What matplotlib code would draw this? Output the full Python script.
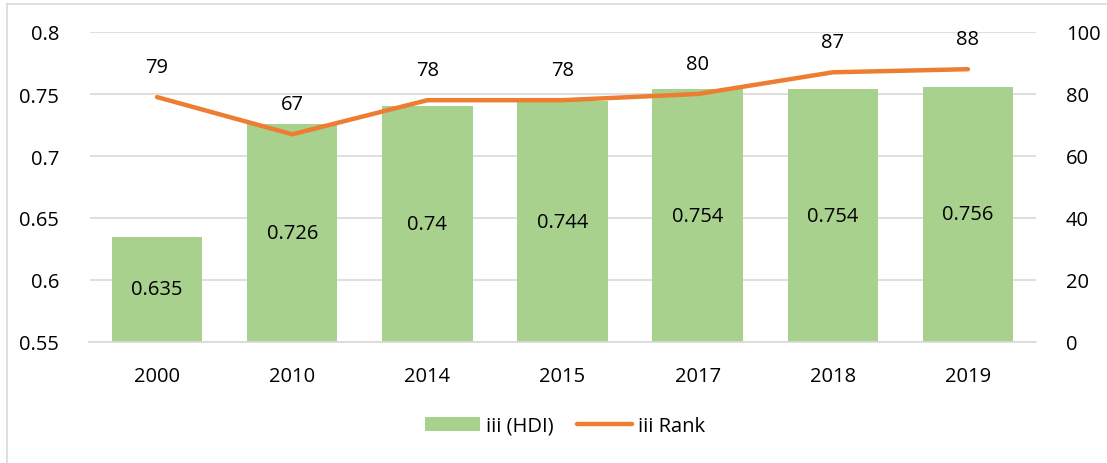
import matplotlib
matplotlib.use("Agg")
import matplotlib.pyplot as plt
from matplotlib.lines import Line2D
from matplotlib.patches import Patch

years = ["2000", "2010", "2014", "2015", "2017", "2018", "2019"]
hdi = [0.635, 0.726, 0.74, 0.744, 0.754, 0.754, 0.756]
hdi_labels = ["0.635", "0.726", "0.74", "0.744", "0.754", "0.754", "0.756"]
rank = [79, 67, 78, 78, 80, 87, 88]
left_ticks = [0.55, 0.6, 0.65, 0.7, 0.75, 0.8]
left_tick_labels = ["0.55", "0.6", "0.65", "0.7", "0.75", "0.8"]
right_ticks = [0, 20, 40, 60, 80, 100]
legend_labels = ["iii (HDI)", "iii Rank"]

plt.rcParams['font.family'] = ['Open Sans', 'DejaVu Sans']
FS = 14.5

W, H = 1107, 464
fig = plt.figure(figsize=(W / 100, H / 100), dpi=100)
ax = fig.add_axes([89.5 / W, 1 - 343 / H, (1035.5 - 89.5) / W, (343 - 33) / H])

bar_color = "#A9D18E"
line_color = "#ED7D31"
grid_color = "#D9D9D9"

x = list(range(len(years)))
base = 0.55
ax.bar(x, [v - base for v in hdi], bottom=base, width=0.67, color=bar_color, zorder=2)
for xi, v, lab in zip(x, hdi, hdi_labels):
    ax.text(xi, (base + v) / 2, lab, ha="center", va="center", fontsize=FS, color="black", zorder=5)

ax.set_ylim(0.55, 0.8)
ax.set_xlim(-0.5, len(years) - 0.5)
ax.set_yticks(left_ticks)
ax.set_yticklabels(left_tick_labels)
ax.set_xticks(x)
ax.set_xticklabels(years)
ax.yaxis.grid(True, color=grid_color, linewidth=1.2, zorder=0)
ax.set_axisbelow(True)
for s in ["top", "right", "left"]:
    ax.spines[s].set_visible(False)
ax.spines["bottom"].set_color(grid_color)
ax.spines["bottom"].set_linewidth(1.2)
ax.tick_params(axis="both", length=0, labelsize=FS)
ax.tick_params(axis="y", pad=22)
ax.tick_params(axis="x", pad=17)

ax2 = ax.twinx()
ax2.set_ylim(0, 100)
ax2.set_yticks(right_ticks)
ax2.plot(x, rank, color=line_color, linewidth=3.2, solid_capstyle="round", zorder=4)
for xi, r in zip(x, rank):
    ax2.annotate(str(r), (xi, r), xytext=(0, 30), textcoords="offset pixels",
                 ha="center", va="center", fontsize=FS)
for s in ["top", "right", "left", "bottom"]:
    ax2.spines[s].set_visible(False)
ax2.tick_params(axis="y", length=0, labelsize=FS, pad=22)

handles = [Patch(facecolor=bar_color, edgecolor="none"),
           Line2D([0], [0], color=line_color, linewidth=3.2, solid_capstyle="round")]
fig.legend(handles, legend_labels, loc="center", bbox_to_anchor=(565 / W, 1 - 427 / H),
           ncol=2, frameon=False, fontsize=FS, handlelength=2.7, handletextpad=0.3,
           columnspacing=1.2)

fig.add_artist(Line2D([7 / W, 7 / W], [0, 1 - 5 / H], color=grid_color, linewidth=1.2, transform=fig.transFigure))
fig.add_artist(Line2D([7 / W, 1], [1 - 5 / H, 1 - 5 / H], color=grid_color, linewidth=1.2, transform=fig.transFigure))

fig.savefig("out.png", dpi=100)
